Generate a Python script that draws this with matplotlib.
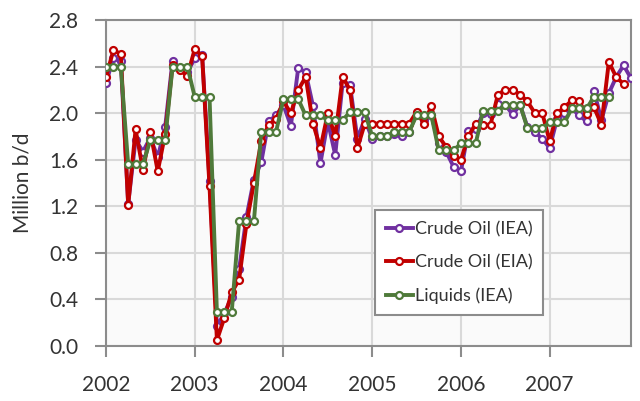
import matplotlib
matplotlib.use("Agg")
import matplotlib.pyplot as plt
import numpy as np

plt.rcParams['font.family'] = ['Lato', 'DejaVu Sans']

start_year = 2002
crude_iea = [2.26, 2.47, 2.45, 1.22, 1.77, 1.67, 1.79, 1.62, 1.88, 2.45, 2.38, 2.35,
             2.47, 2.50, 1.42, 0.17, 0.28, 0.42, 0.66, 1.11, 1.43, 1.58, 1.93, 1.98,
             2.07, 1.89, 2.39, 2.35, 2.06, 1.57, 1.93, 1.64, 2.26, 2.24, 1.78, 1.95,
             1.78, 1.80, 1.80, 1.82, 1.80, 1.84, 2.00, 1.94, 1.98, 1.74, 1.67, 1.54,
             1.50, 1.85, 1.86, 2.00, 1.99, 2.08, 2.07, 1.99, 2.07, 1.88, 1.84, 1.78,
             1.70, 1.95, 2.00, 2.04, 1.98, 1.93, 2.19, 1.94, 2.17, 2.31, 2.41, 2.30]
crude_eia = [2.31, 2.54, 2.51, 1.21, 1.86, 1.51, 1.84, 1.50, 1.82, 2.41, 2.37, 2.32,
             2.55, 2.49, 1.37, 0.05, 0.24, 0.46, 0.57, 1.05, 1.40, 1.76, 1.90, 1.95,
             2.10, 2.00, 2.20, 2.31, 1.91, 1.70, 2.00, 1.80, 2.31, 2.20, 1.70, 1.91,
             1.91, 1.91, 1.91, 1.91, 1.91, 1.91, 2.01, 1.91, 2.06, 1.80, 1.71, 1.63,
             1.60, 1.80, 1.91, 1.90, 1.90, 2.16, 2.20, 2.20, 2.16, 2.10, 2.00, 2.00,
             1.76, 2.00, 2.05, 2.11, 2.10, 1.99, 2.05, 1.90, 2.44, 2.31, 2.25]
liquids_iea = [2.40, 2.40, 2.40, 1.56, 1.56, 1.56, 1.77, 1.77, 1.77, 2.40, 2.40, 2.40,
               2.14, 2.14, 2.14, 0.29, 0.29, 0.29, 1.07, 1.07, 1.07, 1.84, 1.84, 1.84,
               2.12, 2.12, 2.12, 1.98, 1.98, 1.98, 1.94, 1.94, 1.94, 2.01, 2.01, 2.01,
               1.80, 1.80, 1.80, 1.84, 1.84, 1.84, 1.98, 1.98, 1.98, 1.68, 1.68, 1.68,
               1.74, 1.74, 1.74, 2.02, 2.02, 2.02, 2.07, 2.07, 2.07, 1.87, 1.87, 1.87,
               1.92, 1.92, 1.92, 2.04, 2.04, 2.04, 2.14, 2.14, 2.14]
labels = ["Crude Oil (IEA)", "Crude Oil (EIA)", "Liquids (IEA)"]
colors = ["#7030A0", "#C00000", "#4F7A3A"]
year_ticks = [2002, 2003, 2004, 2005, 2006, 2007]
y_ticks = [0.0, 0.4, 0.8, 1.2, 1.6, 2.0, 2.4, 2.8]


def months(n):
    return start_year + np.arange(n) / 12.0


fig = plt.figure(figsize=(6.4, 4.01), dpi=100)
ax = fig.add_axes([106 / 640, 1 - 346 / 401, (631 - 106) / 640, (346 - 20) / 401])
ax.set_facecolor("#fafafa")

for series, lab, col in zip([crude_iea, crude_eia, liquids_iea], labels, colors):
    ax.plot(months(len(series)), series, color=col, lw=2.8, marker="o", ms=5,
            mfc="white", mec=col, mew=1.6, label=lab, zorder=3)

ax.set_xlim(2002, 2002 + 71 / 12)
ax.set_ylim(0, 2.8)
ax.set_xticks(year_ticks)
ax.set_xticklabels([str(y) for y in year_ticks])
ax.set_yticks(y_ticks)
ax.set_yticklabels([f"{v:.1f}" for v in y_ticks])
ax.grid(True, color="#d9d9d9", lw=1.5, zorder=0)
ax.set_axisbelow(True)
for s in ax.spines.values():
    s.set_color("#8c8c8c")
    s.set_linewidth(1.5)
ax.tick_params(axis="x", direction="out", length=8, width=1.5, color="#8c8c8c",
               pad=13, labelsize=15, labelcolor="#333333")
ax.tick_params(axis="y", direction="out", length=8, width=1.5, color="#8c8c8c",
               pad=12, labelsize=15, labelcolor="#333333")
ax.set_ylabel("Million b/d", fontsize=15, color="#333333", labelpad=12)

leg = ax.legend(loc="upper left", bbox_to_anchor=(0.512, 0.417), fontsize=13,
                frameon=True, fancybox=False, edgecolor="#8c8c8c", facecolor="white",
                framealpha=1, handlelength=1.5, handletextpad=0.1, labelspacing=0.95,
                borderpad=0.6, borderaxespad=0)
leg.get_frame().set_linewidth(1.5)
for t in leg.get_texts():
    t.set_color("#333333")

fig.savefig("out.png", dpi=100)
